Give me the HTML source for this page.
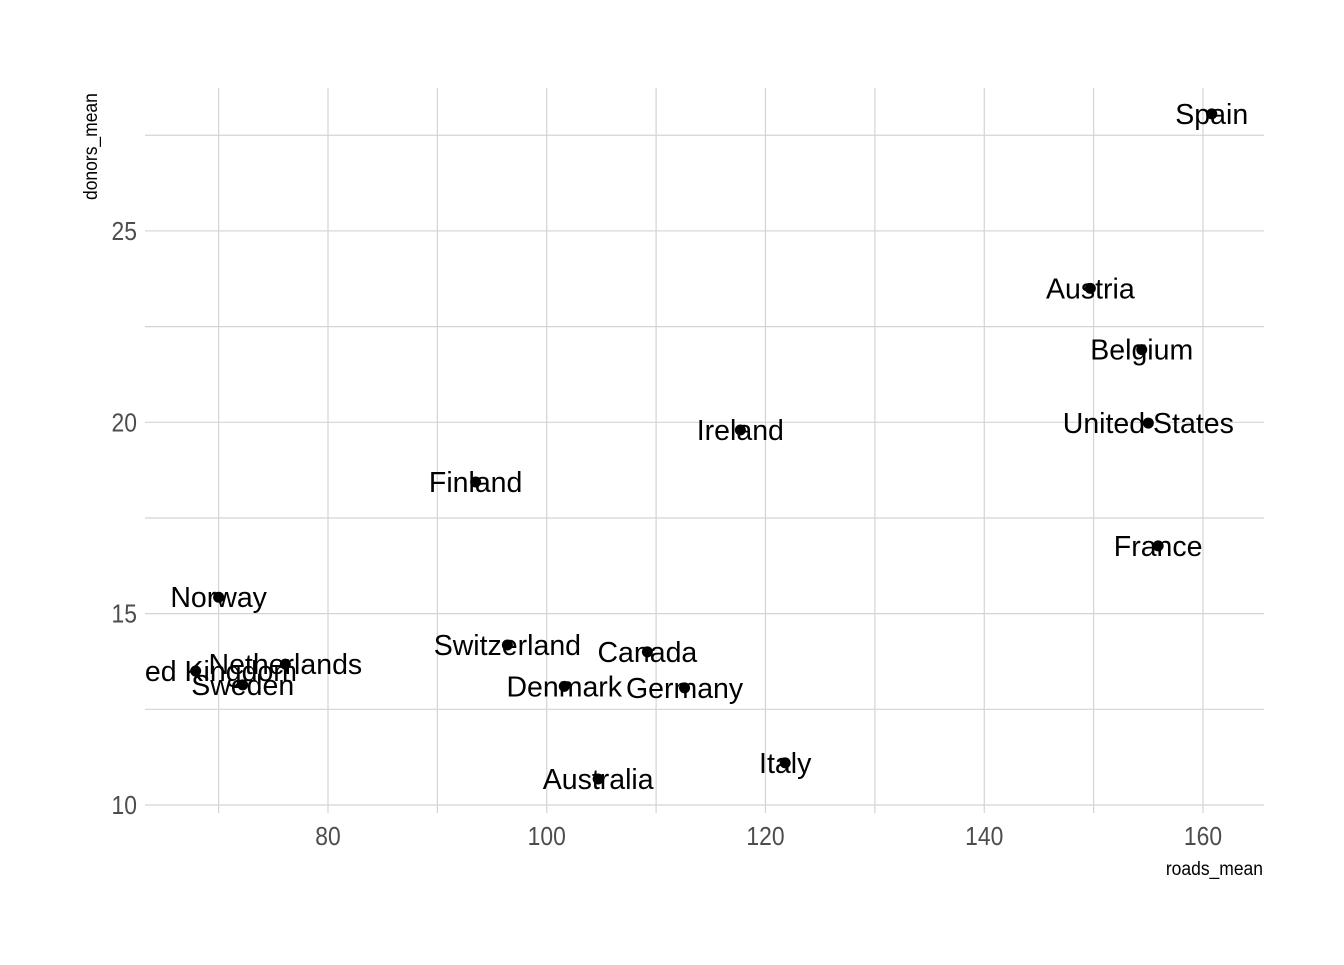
<!DOCTYPE html>
<html><head><meta charset="utf-8"><style>body{margin:0;background:#fff}</style></head>
<body>
<svg id="chart" width="1344" height="960" xmlns="http://www.w3.org/2000/svg" font-family="Liberation Sans, sans-serif">
<defs><clipPath id="panel"><rect x="145" y="88" width="1119" height="725"/></clipPath></defs>
<g id="grid"></g><g id="marks" clip-path="url(#panel)"></g><g id="axes"></g>
<text x="1263" y="875" text-anchor="end" font-size="19" fill="#000" transform="translate(1263,0) scale(0.92,1) translate(-1263,0)">roads_mean</text>
<text transform="translate(97,200) rotate(-90) scale(0.92,1)" font-size="19" fill="#000">donors_mean</text>
</svg>
<script>
const countries=["Spain","Austria","Belgium","United States","Ireland","Finland","France","Norway","Switzerland","Canada","Netherlands","United Kingdom","Sweden","Denmark","Germany","Italy","Australia"];
const roads=[160.8,149.7,154.4,155.0,117.7,93.5,155.9,70.0,96.4,109.2,76.1,67.9,72.2,101.6,112.6,121.8,104.7];
const donors=[28.06,23.5,21.9,19.98,19.8,18.44,16.77,15.43,14.18,14.0,13.68,13.5,13.14,13.1,13.06,11.1,10.68];
const xTicks=[80,100,120,140,160];
const xMinor=[70,90,110,130,150];
const yTicks=[10,15,20,25];
const yMinor=[12.5,17.5,22.5,27.5];
const X=v=>328+(v-80)*10.9375, Y=v=>805-(v-10)*38.27;
const NS="http://www.w3.org/2000/svg";
function mk(p,t,a){const e=document.createElementNS(NS,t);for(const k in a)e.setAttribute(k,a[k]);p.appendChild(e);return e;}
const g=document.getElementById('grid'),m=document.getElementById('marks'),ax=document.getElementById('axes');
xMinor.concat(xTicks).forEach(v=>{const l=mk(g,'line',{x1:X(v),x2:X(v),y1:88,y2:813,stroke:'#d4d4d4','stroke-width':1.2});

});
yMinor.concat(yTicks).forEach(v=>{const l=mk(g,'line',{x1:145,x2:1264,y1:Y(v),y2:Y(v),stroke:'#d4d4d4','stroke-width':1.2});

});
xTicks.forEach(v=>{const t=mk(ax,'text',{x:X(v),y:845,'text-anchor':'middle','font-size':26,fill:'#4d4d4d',transform:`translate(${X(v)},0) scale(0.88,1) translate(${-X(v)},0)`});t.textContent=v;

});
yTicks.forEach(v=>{const t=mk(ax,'text',{x:137,y:Y(v)+9,'text-anchor':'end','font-size':26,fill:'#4d4d4d',transform:'translate(137,0) scale(0.88,1) translate(-137,0)'});t.textContent=v;

});
countries.forEach((c,i)=>{const p=mk(m,'circle',{cx:X(roads[i]),cy:Y(donors[i]),r:5.5,fill:'#000'});


const t=mk(m,'text',{x:X(roads[i]),y:Y(donors[i])+10,'text-anchor':'middle','font-size':28.5,fill:'#000'});t.textContent=c;

});
</script>
</body></html>
